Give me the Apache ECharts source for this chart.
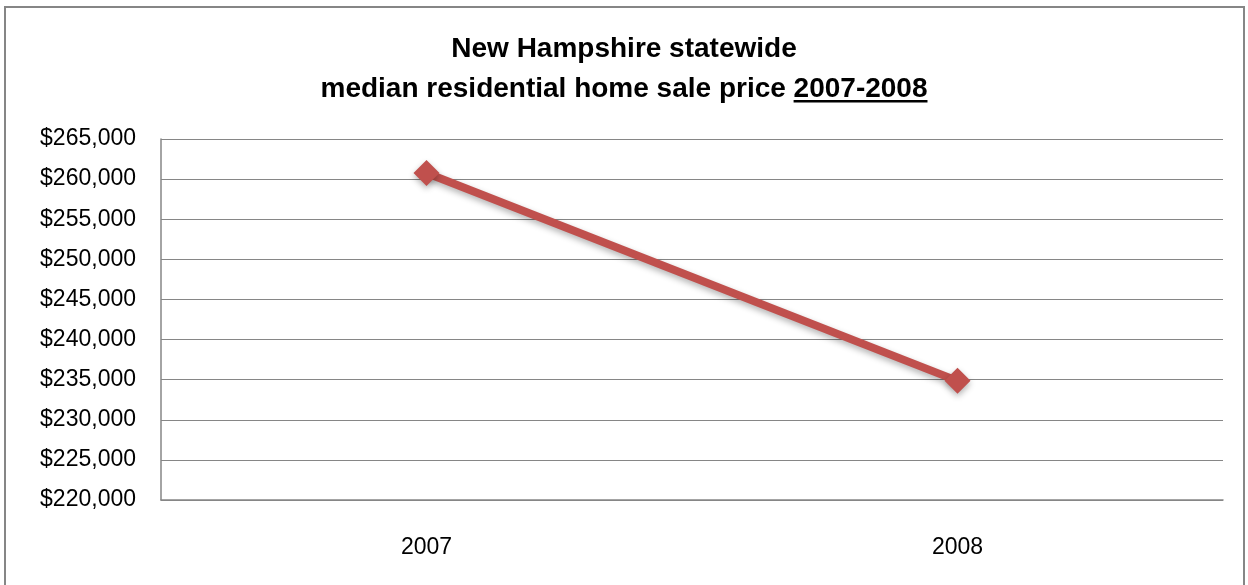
<!DOCTYPE html>
<html><head><meta charset="utf-8">
<script src="https://cdn.jsdelivr.net/npm/echarts@6/dist/echarts.min.js"></script>
<style>html,body{margin:0;padding:0;background:#fff}#c{width:1248px;height:585px}</style>
</head><body><div id="c"></div>
<script>
const categories = ['2007', '2008'];
const medianPrice = [260750, 234850];
const yMin = 220000, yMax = 265000, yStep = 5000;
const titleLine1 = 'New Hampshire statewide';
const titleLine2a = 'median residential home sale price ';
const titleLine2b = '2007-2008';

const font = '"Liberation Sans", Arial, sans-serif';
const titleSize = 28;
// measure underline extent for the underlined part of the title
const cv = document.createElement('canvas').getContext('2d');
cv.font = 'bold ' + titleSize + 'px ' + font;
const wA = cv.measureText(titleLine2a).width;
const wB = cv.measureText(titleLine2b).width;
const lineW = wA + wB;

const chart = echarts.init(document.getElementById('c'));
chart.setOption({
  animation: false,
  backgroundColor: '#fff',
  title: {
    text: '{a|' + titleLine1 + '}\n{a|' + titleLine2a + '}{a|' + titleLine2b + '}',
    left: 'center', top: 24,
    textStyle: {
      fontFamily: font, fontWeight: 'bold', fontSize: titleSize, color: '#000',
      rich: { a: { fontFamily: font, fontWeight: 'bold', fontSize: titleSize, color: '#000', lineHeight: 40 } }
    }
  },
  grid: { left: 161, right: 25, top: 139, bottom: 85 },
  xAxis: {
    type: 'category', data: categories, boundaryGap: true,
    axisLine: { lineStyle: { color: '#868686', width: 1.5 } },
    axisTick: { show: false },
    axisLabel: { fontFamily: font, fontSize: 23, color: '#000', margin: 36 }
  },
  yAxis: {
    type: 'value', min: yMin, max: yMax, interval: yStep,
    axisLine: { show: true, lineStyle: { color: '#868686', width: 1.5 } },
    axisTick: { show: false },
    splitLine: { lineStyle: { color: '#868686', width: 1.2 } },
    axisLabel: {
      fontFamily: font, fontSize: 23, color: '#000', margin: 25,
      formatter: v => '$' + v.toLocaleString('en-US')
    }
  },
  series: [{
    type: 'line', data: medianPrice,
    symbol: 'diamond', symbolSize: 26,
    lineStyle: { color: '#C0504D', width: 8, shadowColor: 'rgba(0,0,0,0.3)', shadowBlur: 6, shadowOffsetY: 3 },
    itemStyle: { color: '#C0504D', shadowColor: 'rgba(0,0,0,0.3)', shadowBlur: 6, shadowOffsetY: 3 }
  }],
  graphic: [
    { type: 'rect', shape: { x: 5, y: 7, width: 1239, height: 600 }, style: { fill: 'none', stroke: '#868686', lineWidth: 2 }, silent: true },
    { type: 'rect', shape: { x: 624 + lineW / 2 - wB, y: 100, width: wB, height: 2.5 }, style: { fill: '#000' }, silent: true }
  ]
});
</script></body></html>
